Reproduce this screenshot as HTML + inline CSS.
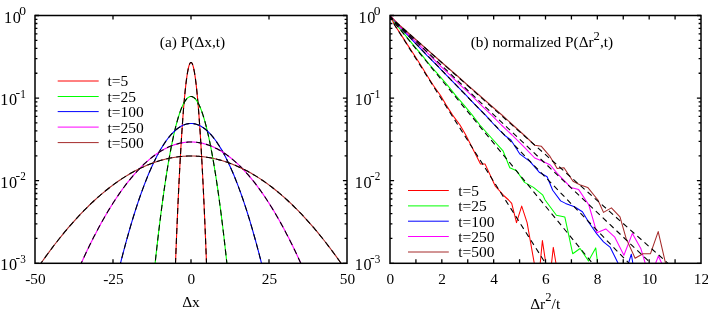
<!DOCTYPE html>
<html><head><meta charset="utf-8"><title>plot</title>
<style>
html,body{margin:0;padding:0;background:#fff;}
body{width:708px;height:310px;overflow:hidden;position:relative;}
.t{font-family:"Liberation Serif",serif;font-size:15.5px;fill:#000;}
</style></head><body>
<svg width="708" height="310" viewBox="0 0 708 310" style="position:absolute;left:0;top:0;will-change:transform">
<rect width="708" height="310" fill="#fff"/>
<defs><clipPath id="c1"><rect x="35.0" y="15.5" width="312.0" height="247.8"/></clipPath><clipPath id="c2"><rect x="390.0" y="15.5" width="311.0" height="247.8"/></clipPath></defs>
<g clip-path="url(#c1)" fill="none">
<path d="M174.72,283.89 L174.88,279.48 L175.04,275.12 L175.21,270.80 L175.37,266.53 L175.53,262.30 L175.70,258.11 L175.86,253.97 L176.02,249.88 L176.18,245.82 L176.35,241.82 L176.51,237.85 L176.67,233.93 L176.83,230.06 L177.00,226.23 L177.16,222.44 L177.32,218.70 L177.49,215.00 L177.65,211.35 L177.81,207.74 L177.97,204.18 L178.14,200.65 L178.30,197.18 L178.46,193.75 L178.63,190.36 L178.79,187.02 L178.95,183.72 L179.11,180.46 L179.28,177.25 L179.44,174.09 L179.60,170.96 L179.77,167.89 L179.93,164.85 L180.09,161.86 L180.25,158.92 L180.42,156.02 L180.58,153.16 L180.74,150.35 L180.91,147.58 L181.07,144.86 L181.23,142.18 L181.39,139.54 L181.56,136.95 L181.72,134.41 L181.88,131.91 L182.05,129.45 L182.21,127.03 L182.37,124.67 L182.53,122.34 L182.70,120.06 L182.86,117.82 L183.02,115.63 L183.18,113.48 L183.35,111.38 L183.51,109.32 L183.67,107.31 L183.84,105.34 L184.00,103.41 L184.16,101.53 L184.32,99.69 L184.49,97.90 L184.65,96.15 L184.81,94.44 L184.98,92.78 L185.14,91.16 L185.30,89.59 L185.46,88.07 L185.63,86.58 L185.79,85.14 L185.95,83.75 L186.12,82.40 L186.28,81.09 L186.44,79.83 L186.60,78.61 L186.77,77.44 L186.93,76.31 L187.09,75.22 L187.26,74.18 L187.42,73.19 L187.58,72.23 L187.74,71.33 L187.91,70.46 L188.07,69.64 L188.23,68.87 L188.39,68.14 L188.56,67.45 L188.72,66.81 L188.88,66.21 L189.05,65.66 L189.21,65.15 L189.37,64.68 L189.53,64.26 L189.70,63.89 L189.86,63.55 L190.02,63.27 L190.19,63.02 L190.35,62.82 L190.51,62.67 L190.67,62.56 L190.84,62.49 L191.00,62.47 L191.16,62.49 L191.33,62.56 L191.49,62.67 L191.65,62.82 L191.81,63.02 L191.98,63.27 L192.14,63.55 L192.30,63.89 L192.47,64.26 L192.63,64.68 L192.79,65.15 L192.95,65.66 L193.12,66.21 L193.28,66.81 L193.44,67.45 L193.61,68.14 L193.77,68.87 L193.93,69.64 L194.09,70.46 L194.26,71.33 L194.42,72.23 L194.58,73.19 L194.74,74.18 L194.91,75.22 L195.07,76.31 L195.23,77.44 L195.40,78.61 L195.56,79.83 L195.72,81.09 L195.88,82.40 L196.05,83.75 L196.21,85.14 L196.37,86.58 L196.54,88.07 L196.70,89.59 L196.86,91.16 L197.02,92.78 L197.19,94.44 L197.35,96.15 L197.51,97.90 L197.68,99.69 L197.84,101.53 L198.00,103.41 L198.16,105.34 L198.33,107.31 L198.49,109.32 L198.65,111.38 L198.82,113.48 L198.98,115.63 L199.14,117.82 L199.30,120.06 L199.47,122.34 L199.63,124.67 L199.79,127.03 L199.95,129.45 L200.12,131.91 L200.28,134.41 L200.44,136.95 L200.61,139.54 L200.77,142.18 L200.93,144.86 L201.09,147.58 L201.26,150.35 L201.42,153.16 L201.58,156.02 L201.75,158.92 L201.91,161.86 L202.07,164.85 L202.23,167.89 L202.40,170.96 L202.56,174.09 L202.72,177.25 L202.89,180.46 L203.05,183.72 L203.21,187.02 L203.37,190.36 L203.54,193.75 L203.70,197.18 L203.86,200.65 L204.03,204.18 L204.19,207.74 L204.35,211.35 L204.51,215.00 L204.68,218.70 L204.84,222.44 L205.00,226.23 L205.17,230.06 L205.33,233.93 L205.49,237.85 L205.65,241.82 L205.82,245.82 L205.98,249.88 L206.14,253.97 L206.30,258.11 L206.47,262.30 L206.63,266.53 L206.79,270.80 L206.96,275.12 L207.12,279.48 L207.28,283.89" stroke="#ff0000" stroke-width="1.1"/>
<path d="M174.72,283.89 L174.88,279.48 L175.04,275.12 L175.21,270.80 L175.37,266.53 L175.53,262.30 L175.70,258.11 L175.86,253.97 L176.02,249.88 L176.18,245.82 L176.35,241.82 L176.51,237.85 L176.67,233.93 L176.83,230.06 L177.00,226.23 L177.16,222.44 L177.32,218.70 L177.49,215.00 L177.65,211.35 L177.81,207.74 L177.97,204.18 L178.14,200.65 L178.30,197.18 L178.46,193.75 L178.63,190.36 L178.79,187.02 L178.95,183.72 L179.11,180.46 L179.28,177.25 L179.44,174.09 L179.60,170.96 L179.77,167.89 L179.93,164.85 L180.09,161.86 L180.25,158.92 L180.42,156.02 L180.58,153.16 L180.74,150.35 L180.91,147.58 L181.07,144.86 L181.23,142.18 L181.39,139.54 L181.56,136.95 L181.72,134.41 L181.88,131.91 L182.05,129.45 L182.21,127.03 L182.37,124.67 L182.53,122.34 L182.70,120.06 L182.86,117.82 L183.02,115.63 L183.18,113.48 L183.35,111.38 L183.51,109.32 L183.67,107.31 L183.84,105.34 L184.00,103.41 L184.16,101.53 L184.32,99.69 L184.49,97.90 L184.65,96.15 L184.81,94.44 L184.98,92.78 L185.14,91.16 L185.30,89.59 L185.46,88.07 L185.63,86.58 L185.79,85.14 L185.95,83.75 L186.12,82.40 L186.28,81.09 L186.44,79.83 L186.60,78.61 L186.77,77.44 L186.93,76.31 L187.09,75.22 L187.26,74.18 L187.42,73.19 L187.58,72.23 L187.74,71.33 L187.91,70.46 L188.07,69.64 L188.23,68.87 L188.39,68.14 L188.56,67.45 L188.72,66.81 L188.88,66.21 L189.05,65.66 L189.21,65.15 L189.37,64.68 L189.53,64.26 L189.70,63.89 L189.86,63.55 L190.02,63.27 L190.19,63.02 L190.35,62.82 L190.51,62.67 L190.67,62.56 L190.84,62.49 L191.00,62.47 L191.16,62.49 L191.33,62.56 L191.49,62.67 L191.65,62.82 L191.81,63.02 L191.98,63.27 L192.14,63.55 L192.30,63.89 L192.47,64.26 L192.63,64.68 L192.79,65.15 L192.95,65.66 L193.12,66.21 L193.28,66.81 L193.44,67.45 L193.61,68.14 L193.77,68.87 L193.93,69.64 L194.09,70.46 L194.26,71.33 L194.42,72.23 L194.58,73.19 L194.74,74.18 L194.91,75.22 L195.07,76.31 L195.23,77.44 L195.40,78.61 L195.56,79.83 L195.72,81.09 L195.88,82.40 L196.05,83.75 L196.21,85.14 L196.37,86.58 L196.54,88.07 L196.70,89.59 L196.86,91.16 L197.02,92.78 L197.19,94.44 L197.35,96.15 L197.51,97.90 L197.68,99.69 L197.84,101.53 L198.00,103.41 L198.16,105.34 L198.33,107.31 L198.49,109.32 L198.65,111.38 L198.82,113.48 L198.98,115.63 L199.14,117.82 L199.30,120.06 L199.47,122.34 L199.63,124.67 L199.79,127.03 L199.95,129.45 L200.12,131.91 L200.28,134.41 L200.44,136.95 L200.61,139.54 L200.77,142.18 L200.93,144.86 L201.09,147.58 L201.26,150.35 L201.42,153.16 L201.58,156.02 L201.75,158.92 L201.91,161.86 L202.07,164.85 L202.23,167.89 L202.40,170.96 L202.56,174.09 L202.72,177.25 L202.89,180.46 L203.05,183.72 L203.21,187.02 L203.37,190.36 L203.54,193.75 L203.70,197.18 L203.86,200.65 L204.03,204.18 L204.19,207.74 L204.35,211.35 L204.51,215.00 L204.68,218.70 L204.84,222.44 L205.00,226.23 L205.17,230.06 L205.33,233.93 L205.49,237.85 L205.65,241.82 L205.82,245.82 L205.98,249.88 L206.14,253.97 L206.30,258.11 L206.47,262.30 L206.63,266.53 L206.79,270.80 L206.96,275.12 L207.12,279.48 L207.28,283.89" stroke="#000" stroke-width="1.1" stroke-dasharray="6 4"/>
<path d="M153.33,280.40 L153.70,276.74 L154.08,273.12 L154.46,269.53 L154.83,265.98 L155.21,262.47 L155.59,258.99 L155.96,255.55 L156.34,252.15 L156.72,248.78 L157.09,245.46 L157.47,242.16 L157.85,238.91 L158.22,235.69 L158.60,232.51 L158.98,229.36 L159.35,226.25 L159.73,223.18 L160.11,220.15 L160.48,217.15 L160.86,214.19 L161.24,211.27 L161.61,208.38 L161.99,205.53 L162.37,202.71 L162.74,199.94 L163.12,197.20 L163.50,194.49 L163.87,191.83 L164.25,189.20 L164.63,186.60 L165.00,184.05 L165.38,181.53 L165.76,179.04 L166.14,176.60 L166.51,174.19 L166.89,171.82 L167.27,169.48 L167.64,167.18 L168.02,164.92 L168.40,162.69 L168.77,160.51 L169.15,158.35 L169.53,156.24 L169.90,154.16 L170.28,152.12 L170.66,150.12 L171.03,148.15 L171.41,146.22 L171.79,144.32 L172.16,142.46 L172.54,140.64 L172.92,138.86 L173.29,137.11 L173.67,135.40 L174.05,133.73 L174.42,132.09 L174.80,130.49 L175.18,128.93 L175.55,127.40 L175.93,125.91 L176.31,124.46 L176.68,123.04 L177.06,121.66 L177.44,120.32 L177.81,119.02 L178.19,117.75 L178.57,116.51 L178.94,115.32 L179.32,114.16 L179.70,113.04 L180.07,111.95 L180.45,110.91 L180.83,109.89 L181.20,108.92 L181.58,107.98 L181.96,107.08 L182.33,106.22 L182.71,105.39 L183.09,104.60 L183.47,103.84 L183.84,103.13 L184.22,102.45 L184.60,101.80 L184.97,101.19 L185.35,100.62 L185.73,100.09 L186.10,99.59 L186.48,99.14 L186.86,98.71 L187.23,98.33 L187.61,97.98 L187.99,97.66 L188.36,97.39 L188.74,97.15 L189.12,96.95 L189.49,96.78 L189.87,96.65 L190.25,96.56 L190.62,96.51 L191.00,96.49 L191.38,96.51 L191.75,96.56 L192.13,96.65 L192.51,96.78 L192.88,96.95 L193.26,97.15 L193.64,97.39 L194.01,97.66 L194.39,97.98 L194.77,98.33 L195.14,98.71 L195.52,99.14 L195.90,99.59 L196.27,100.09 L196.65,100.62 L197.03,101.19 L197.40,101.80 L197.78,102.45 L198.16,103.13 L198.53,103.84 L198.91,104.60 L199.29,105.39 L199.67,106.22 L200.04,107.08 L200.42,107.98 L200.80,108.92 L201.17,109.89 L201.55,110.91 L201.93,111.95 L202.30,113.04 L202.68,114.16 L203.06,115.32 L203.43,116.51 L203.81,117.75 L204.19,119.02 L204.56,120.32 L204.94,121.66 L205.32,123.04 L205.69,124.46 L206.07,125.91 L206.45,127.40 L206.82,128.93 L207.20,130.49 L207.58,132.09 L207.95,133.73 L208.33,135.40 L208.71,137.11 L209.08,138.86 L209.46,140.64 L209.84,142.46 L210.21,144.32 L210.59,146.22 L210.97,148.15 L211.34,150.12 L211.72,152.12 L212.10,154.16 L212.47,156.24 L212.85,158.35 L213.23,160.51 L213.60,162.69 L213.98,164.92 L214.36,167.18 L214.73,169.48 L215.11,171.82 L215.49,174.19 L215.86,176.60 L216.24,179.04 L216.62,181.53 L217.00,184.05 L217.37,186.60 L217.75,189.20 L218.13,191.83 L218.50,194.49 L218.88,197.20 L219.26,199.94 L219.63,202.71 L220.01,205.53 L220.39,208.38 L220.76,211.27 L221.14,214.19 L221.52,217.15 L221.89,220.15 L222.27,223.18 L222.65,226.25 L223.02,229.36 L223.40,232.51 L223.78,235.69 L224.15,238.91 L224.53,242.16 L224.91,245.46 L225.28,248.78 L225.66,252.15 L226.04,255.55 L226.41,258.99 L226.79,262.47 L227.17,265.98 L227.54,269.53 L227.92,273.12 L228.30,276.74 L228.67,280.40" stroke="#00ff00" stroke-width="1.1"/>
<path d="M153.33,280.40 L153.70,276.74 L154.08,273.12 L154.46,269.53 L154.83,265.98 L155.21,262.47 L155.59,258.99 L155.96,255.55 L156.34,252.15 L156.72,248.78 L157.09,245.46 L157.47,242.16 L157.85,238.91 L158.22,235.69 L158.60,232.51 L158.98,229.36 L159.35,226.25 L159.73,223.18 L160.11,220.15 L160.48,217.15 L160.86,214.19 L161.24,211.27 L161.61,208.38 L161.99,205.53 L162.37,202.71 L162.74,199.94 L163.12,197.20 L163.50,194.49 L163.87,191.83 L164.25,189.20 L164.63,186.60 L165.00,184.05 L165.38,181.53 L165.76,179.04 L166.14,176.60 L166.51,174.19 L166.89,171.82 L167.27,169.48 L167.64,167.18 L168.02,164.92 L168.40,162.69 L168.77,160.51 L169.15,158.35 L169.53,156.24 L169.90,154.16 L170.28,152.12 L170.66,150.12 L171.03,148.15 L171.41,146.22 L171.79,144.32 L172.16,142.46 L172.54,140.64 L172.92,138.86 L173.29,137.11 L173.67,135.40 L174.05,133.73 L174.42,132.09 L174.80,130.49 L175.18,128.93 L175.55,127.40 L175.93,125.91 L176.31,124.46 L176.68,123.04 L177.06,121.66 L177.44,120.32 L177.81,119.02 L178.19,117.75 L178.57,116.51 L178.94,115.32 L179.32,114.16 L179.70,113.04 L180.07,111.95 L180.45,110.91 L180.83,109.89 L181.20,108.92 L181.58,107.98 L181.96,107.08 L182.33,106.22 L182.71,105.39 L183.09,104.60 L183.47,103.84 L183.84,103.13 L184.22,102.45 L184.60,101.80 L184.97,101.19 L185.35,100.62 L185.73,100.09 L186.10,99.59 L186.48,99.14 L186.86,98.71 L187.23,98.33 L187.61,97.98 L187.99,97.66 L188.36,97.39 L188.74,97.15 L189.12,96.95 L189.49,96.78 L189.87,96.65 L190.25,96.56 L190.62,96.51 L191.00,96.49 L191.38,96.51 L191.75,96.56 L192.13,96.65 L192.51,96.78 L192.88,96.95 L193.26,97.15 L193.64,97.39 L194.01,97.66 L194.39,97.98 L194.77,98.33 L195.14,98.71 L195.52,99.14 L195.90,99.59 L196.27,100.09 L196.65,100.62 L197.03,101.19 L197.40,101.80 L197.78,102.45 L198.16,103.13 L198.53,103.84 L198.91,104.60 L199.29,105.39 L199.67,106.22 L200.04,107.08 L200.42,107.98 L200.80,108.92 L201.17,109.89 L201.55,110.91 L201.93,111.95 L202.30,113.04 L202.68,114.16 L203.06,115.32 L203.43,116.51 L203.81,117.75 L204.19,119.02 L204.56,120.32 L204.94,121.66 L205.32,123.04 L205.69,124.46 L206.07,125.91 L206.45,127.40 L206.82,128.93 L207.20,130.49 L207.58,132.09 L207.95,133.73 L208.33,135.40 L208.71,137.11 L209.08,138.86 L209.46,140.64 L209.84,142.46 L210.21,144.32 L210.59,146.22 L210.97,148.15 L211.34,150.12 L211.72,152.12 L212.10,154.16 L212.47,156.24 L212.85,158.35 L213.23,160.51 L213.60,162.69 L213.98,164.92 L214.36,167.18 L214.73,169.48 L215.11,171.82 L215.49,174.19 L215.86,176.60 L216.24,179.04 L216.62,181.53 L217.00,184.05 L217.37,186.60 L217.75,189.20 L218.13,191.83 L218.50,194.49 L218.88,197.20 L219.26,199.94 L219.63,202.71 L220.01,205.53 L220.39,208.38 L220.76,211.27 L221.14,214.19 L221.52,217.15 L221.89,220.15 L222.27,223.18 L222.65,226.25 L223.02,229.36 L223.40,232.51 L223.78,235.69 L224.15,238.91 L224.53,242.16 L224.91,245.46 L225.28,248.78 L225.66,252.15 L226.04,255.55 L226.41,258.99 L226.79,262.47 L227.17,265.98 L227.54,269.53 L227.92,273.12 L228.30,276.74 L228.67,280.40" stroke="#000" stroke-width="1.1" stroke-dasharray="6 4"/>
<path d="M116.96,277.63 L117.70,274.56 L118.44,271.53 L119.18,268.52 L119.92,265.55 L120.66,262.60 L121.40,259.69 L122.15,256.81 L122.89,253.95 L123.63,251.13 L124.37,248.34 L125.11,245.58 L125.85,242.85 L126.59,240.16 L127.33,237.49 L128.07,234.85 L128.81,232.25 L129.55,229.67 L130.29,227.13 L131.03,224.62 L131.77,222.13 L132.51,219.68 L133.25,217.26 L133.99,214.87 L134.73,212.51 L135.47,210.19 L136.21,207.89 L136.95,205.62 L137.69,203.39 L138.43,201.18 L139.17,199.01 L139.91,196.87 L140.65,194.76 L141.39,192.67 L142.14,190.62 L142.88,188.60 L143.62,186.62 L144.36,184.66 L145.10,182.73 L145.84,180.83 L146.58,178.97 L147.32,177.13 L148.06,175.33 L148.80,173.56 L149.54,171.82 L150.28,170.10 L151.02,168.42 L151.76,166.77 L152.50,165.16 L153.24,163.57 L153.98,162.01 L154.72,160.49 L155.46,158.99 L156.20,157.53 L156.94,156.09 L157.68,154.69 L158.42,153.32 L159.16,151.98 L159.90,150.66 L160.64,149.39 L161.38,148.14 L162.13,146.92 L162.87,145.73 L163.61,144.58 L164.35,143.45 L165.09,142.36 L165.83,141.29 L166.57,140.26 L167.31,139.26 L168.05,138.29 L168.79,137.35 L169.53,136.44 L170.27,135.56 L171.01,134.71 L171.75,133.89 L172.49,133.11 L173.23,132.35 L173.97,131.63 L174.71,130.93 L175.45,130.27 L176.19,129.64 L176.93,129.04 L177.67,128.47 L178.41,127.93 L179.15,127.42 L179.89,126.94 L180.63,126.49 L181.38,126.08 L182.12,125.69 L182.86,125.34 L183.60,125.01 L184.34,124.72 L185.08,124.46 L185.82,124.23 L186.56,124.03 L187.30,123.86 L188.04,123.72 L188.78,123.61 L189.52,123.53 L190.26,123.49 L191.00,123.47 L191.74,123.49 L192.48,123.53 L193.22,123.61 L193.96,123.72 L194.70,123.86 L195.44,124.03 L196.18,124.23 L196.92,124.46 L197.66,124.72 L198.40,125.01 L199.14,125.34 L199.88,125.69 L200.62,126.08 L201.37,126.49 L202.11,126.94 L202.85,127.42 L203.59,127.93 L204.33,128.47 L205.07,129.04 L205.81,129.64 L206.55,130.27 L207.29,130.93 L208.03,131.63 L208.77,132.35 L209.51,133.11 L210.25,133.89 L210.99,134.71 L211.73,135.56 L212.47,136.44 L213.21,137.35 L213.95,138.29 L214.69,139.26 L215.43,140.26 L216.17,141.29 L216.91,142.36 L217.65,143.45 L218.39,144.58 L219.13,145.73 L219.87,146.92 L220.62,148.14 L221.36,149.39 L222.10,150.66 L222.84,151.98 L223.58,153.32 L224.32,154.69 L225.06,156.09 L225.80,157.53 L226.54,158.99 L227.28,160.49 L228.02,162.01 L228.76,163.57 L229.50,165.16 L230.24,166.77 L230.98,168.42 L231.72,170.10 L232.46,171.82 L233.20,173.56 L233.94,175.33 L234.68,177.13 L235.42,178.97 L236.16,180.83 L236.90,182.73 L237.64,184.66 L238.38,186.62 L239.12,188.60 L239.86,190.62 L240.61,192.67 L241.35,194.76 L242.09,196.87 L242.83,199.01 L243.57,201.18 L244.31,203.39 L245.05,205.62 L245.79,207.89 L246.53,210.19 L247.27,212.51 L248.01,214.87 L248.75,217.26 L249.49,219.68 L250.23,222.13 L250.97,224.62 L251.71,227.13 L252.45,229.67 L253.19,232.25 L253.93,234.85 L254.67,237.49 L255.41,240.16 L256.15,242.85 L256.89,245.58 L257.63,248.34 L258.37,251.13 L259.11,253.95 L259.85,256.81 L260.60,259.69 L261.34,262.60 L262.08,265.55 L262.82,268.52 L263.56,271.53 L264.30,274.56 L265.04,277.63" stroke="#0000ff" stroke-width="1.1"/>
<path d="M116.96,277.63 L117.70,274.56 L118.44,271.53 L119.18,268.52 L119.92,265.55 L120.66,262.60 L121.40,259.69 L122.15,256.81 L122.89,253.95 L123.63,251.13 L124.37,248.34 L125.11,245.58 L125.85,242.85 L126.59,240.16 L127.33,237.49 L128.07,234.85 L128.81,232.25 L129.55,229.67 L130.29,227.13 L131.03,224.62 L131.77,222.13 L132.51,219.68 L133.25,217.26 L133.99,214.87 L134.73,212.51 L135.47,210.19 L136.21,207.89 L136.95,205.62 L137.69,203.39 L138.43,201.18 L139.17,199.01 L139.91,196.87 L140.65,194.76 L141.39,192.67 L142.14,190.62 L142.88,188.60 L143.62,186.62 L144.36,184.66 L145.10,182.73 L145.84,180.83 L146.58,178.97 L147.32,177.13 L148.06,175.33 L148.80,173.56 L149.54,171.82 L150.28,170.10 L151.02,168.42 L151.76,166.77 L152.50,165.16 L153.24,163.57 L153.98,162.01 L154.72,160.49 L155.46,158.99 L156.20,157.53 L156.94,156.09 L157.68,154.69 L158.42,153.32 L159.16,151.98 L159.90,150.66 L160.64,149.39 L161.38,148.14 L162.13,146.92 L162.87,145.73 L163.61,144.58 L164.35,143.45 L165.09,142.36 L165.83,141.29 L166.57,140.26 L167.31,139.26 L168.05,138.29 L168.79,137.35 L169.53,136.44 L170.27,135.56 L171.01,134.71 L171.75,133.89 L172.49,133.11 L173.23,132.35 L173.97,131.63 L174.71,130.93 L175.45,130.27 L176.19,129.64 L176.93,129.04 L177.67,128.47 L178.41,127.93 L179.15,127.42 L179.89,126.94 L180.63,126.49 L181.38,126.08 L182.12,125.69 L182.86,125.34 L183.60,125.01 L184.34,124.72 L185.08,124.46 L185.82,124.23 L186.56,124.03 L187.30,123.86 L188.04,123.72 L188.78,123.61 L189.52,123.53 L190.26,123.49 L191.00,123.47 L191.74,123.49 L192.48,123.53 L193.22,123.61 L193.96,123.72 L194.70,123.86 L195.44,124.03 L196.18,124.23 L196.92,124.46 L197.66,124.72 L198.40,125.01 L199.14,125.34 L199.88,125.69 L200.62,126.08 L201.37,126.49 L202.11,126.94 L202.85,127.42 L203.59,127.93 L204.33,128.47 L205.07,129.04 L205.81,129.64 L206.55,130.27 L207.29,130.93 L208.03,131.63 L208.77,132.35 L209.51,133.11 L210.25,133.89 L210.99,134.71 L211.73,135.56 L212.47,136.44 L213.21,137.35 L213.95,138.29 L214.69,139.26 L215.43,140.26 L216.17,141.29 L216.91,142.36 L217.65,143.45 L218.39,144.58 L219.13,145.73 L219.87,146.92 L220.62,148.14 L221.36,149.39 L222.10,150.66 L222.84,151.98 L223.58,153.32 L224.32,154.69 L225.06,156.09 L225.80,157.53 L226.54,158.99 L227.28,160.49 L228.02,162.01 L228.76,163.57 L229.50,165.16 L230.24,166.77 L230.98,168.42 L231.72,170.10 L232.46,171.82 L233.20,173.56 L233.94,175.33 L234.68,177.13 L235.42,178.97 L236.16,180.83 L236.90,182.73 L237.64,184.66 L238.38,186.62 L239.12,188.60 L239.86,190.62 L240.61,192.67 L241.35,194.76 L242.09,196.87 L242.83,199.01 L243.57,201.18 L244.31,203.39 L245.05,205.62 L245.79,207.89 L246.53,210.19 L247.27,212.51 L248.01,214.87 L248.75,217.26 L249.49,219.68 L250.23,222.13 L250.97,224.62 L251.71,227.13 L252.45,229.67 L253.19,232.25 L253.93,234.85 L254.67,237.49 L255.41,240.16 L256.15,242.85 L256.89,245.58 L257.63,248.34 L258.37,251.13 L259.11,253.95 L259.85,256.81 L260.60,259.69 L261.34,262.60 L262.08,265.55 L262.82,268.52 L263.56,271.53 L264.30,274.56 L265.04,277.63" stroke="#000" stroke-width="1.1" stroke-dasharray="6 4"/>
<path d="M75.68,275.73 L76.84,273.07 L77.99,270.44 L79.14,267.83 L80.30,265.25 L81.45,262.69 L82.60,260.17 L83.76,257.67 L84.91,255.19 L86.06,252.74 L87.22,250.32 L88.37,247.93 L89.52,245.56 L90.68,243.22 L91.83,240.91 L92.98,238.62 L94.14,236.36 L95.29,234.13 L96.44,231.92 L97.59,229.74 L98.75,227.59 L99.90,225.46 L101.05,223.36 L102.21,221.29 L103.36,219.24 L104.51,217.22 L105.67,215.23 L106.82,213.26 L107.97,211.32 L109.13,209.41 L110.28,207.52 L111.43,205.67 L112.59,203.83 L113.74,202.03 L114.89,200.25 L116.05,198.50 L117.20,196.77 L118.35,195.07 L119.50,193.40 L120.66,191.76 L121.81,190.14 L122.96,188.55 L124.12,186.98 L125.27,185.44 L126.42,183.93 L127.58,182.45 L128.73,180.99 L129.88,179.56 L131.04,178.15 L132.19,176.78 L133.34,175.43 L134.50,174.10 L135.65,172.80 L136.80,171.53 L137.96,170.29 L139.11,169.07 L140.26,167.88 L141.41,166.72 L142.57,165.58 L143.72,164.47 L144.87,163.39 L146.03,162.33 L147.18,161.30 L148.33,160.30 L149.49,159.32 L150.64,158.37 L151.79,157.45 L152.95,156.55 L154.10,155.69 L155.25,154.84 L156.41,154.03 L157.56,153.24 L158.71,152.48 L159.86,151.74 L161.02,151.03 L162.17,150.35 L163.32,149.69 L164.48,149.07 L165.63,148.46 L166.78,147.89 L167.94,147.34 L169.09,146.82 L170.24,146.32 L171.40,145.86 L172.55,145.41 L173.70,145.00 L174.86,144.61 L176.01,144.25 L177.16,143.92 L178.32,143.61 L179.47,143.33 L180.62,143.07 L181.77,142.85 L182.93,142.65 L184.08,142.47 L185.23,142.32 L186.39,142.20 L187.54,142.11 L188.69,142.04 L189.85,142.00 L191.00,141.99 L192.15,142.00 L193.31,142.04 L194.46,142.11 L195.61,142.20 L196.77,142.32 L197.92,142.47 L199.07,142.65 L200.23,142.85 L201.38,143.07 L202.53,143.33 L203.68,143.61 L204.84,143.92 L205.99,144.25 L207.14,144.61 L208.30,145.00 L209.45,145.41 L210.60,145.86 L211.76,146.32 L212.91,146.82 L214.06,147.34 L215.22,147.89 L216.37,148.46 L217.52,149.07 L218.68,149.69 L219.83,150.35 L220.98,151.03 L222.14,151.74 L223.29,152.48 L224.44,153.24 L225.59,154.03 L226.75,154.84 L227.90,155.69 L229.05,156.55 L230.21,157.45 L231.36,158.37 L232.51,159.32 L233.67,160.30 L234.82,161.30 L235.97,162.33 L237.13,163.39 L238.28,164.47 L239.43,165.58 L240.59,166.72 L241.74,167.88 L242.89,169.07 L244.04,170.29 L245.20,171.53 L246.35,172.80 L247.50,174.10 L248.66,175.43 L249.81,176.78 L250.96,178.15 L252.12,179.56 L253.27,180.99 L254.42,182.45 L255.58,183.93 L256.73,185.44 L257.88,186.98 L259.04,188.55 L260.19,190.14 L261.34,191.76 L262.50,193.40 L263.65,195.07 L264.80,196.77 L265.95,198.50 L267.11,200.25 L268.26,202.03 L269.41,203.83 L270.57,205.67 L271.72,207.52 L272.87,209.41 L274.03,211.32 L275.18,213.26 L276.33,215.23 L277.49,217.22 L278.64,219.24 L279.79,221.29 L280.95,223.36 L282.10,225.46 L283.25,227.59 L284.41,229.74 L285.56,231.92 L286.71,234.13 L287.86,236.36 L289.02,238.62 L290.17,240.91 L291.32,243.22 L292.48,245.56 L293.63,247.93 L294.78,250.32 L295.94,252.74 L297.09,255.19 L298.24,257.67 L299.40,260.17 L300.55,262.69 L301.70,265.25 L302.86,267.83 L304.01,270.44 L305.16,273.07 L306.32,275.73" stroke="#ff00ff" stroke-width="1.1"/>
<path d="M75.68,275.73 L76.84,273.07 L77.99,270.44 L79.14,267.83 L80.30,265.25 L81.45,262.69 L82.60,260.17 L83.76,257.67 L84.91,255.19 L86.06,252.74 L87.22,250.32 L88.37,247.93 L89.52,245.56 L90.68,243.22 L91.83,240.91 L92.98,238.62 L94.14,236.36 L95.29,234.13 L96.44,231.92 L97.59,229.74 L98.75,227.59 L99.90,225.46 L101.05,223.36 L102.21,221.29 L103.36,219.24 L104.51,217.22 L105.67,215.23 L106.82,213.26 L107.97,211.32 L109.13,209.41 L110.28,207.52 L111.43,205.67 L112.59,203.83 L113.74,202.03 L114.89,200.25 L116.05,198.50 L117.20,196.77 L118.35,195.07 L119.50,193.40 L120.66,191.76 L121.81,190.14 L122.96,188.55 L124.12,186.98 L125.27,185.44 L126.42,183.93 L127.58,182.45 L128.73,180.99 L129.88,179.56 L131.04,178.15 L132.19,176.78 L133.34,175.43 L134.50,174.10 L135.65,172.80 L136.80,171.53 L137.96,170.29 L139.11,169.07 L140.26,167.88 L141.41,166.72 L142.57,165.58 L143.72,164.47 L144.87,163.39 L146.03,162.33 L147.18,161.30 L148.33,160.30 L149.49,159.32 L150.64,158.37 L151.79,157.45 L152.95,156.55 L154.10,155.69 L155.25,154.84 L156.41,154.03 L157.56,153.24 L158.71,152.48 L159.86,151.74 L161.02,151.03 L162.17,150.35 L163.32,149.69 L164.48,149.07 L165.63,148.46 L166.78,147.89 L167.94,147.34 L169.09,146.82 L170.24,146.32 L171.40,145.86 L172.55,145.41 L173.70,145.00 L174.86,144.61 L176.01,144.25 L177.16,143.92 L178.32,143.61 L179.47,143.33 L180.62,143.07 L181.77,142.85 L182.93,142.65 L184.08,142.47 L185.23,142.32 L186.39,142.20 L187.54,142.11 L188.69,142.04 L189.85,142.00 L191.00,141.99 L192.15,142.00 L193.31,142.04 L194.46,142.11 L195.61,142.20 L196.77,142.32 L197.92,142.47 L199.07,142.65 L200.23,142.85 L201.38,143.07 L202.53,143.33 L203.68,143.61 L204.84,143.92 L205.99,144.25 L207.14,144.61 L208.30,145.00 L209.45,145.41 L210.60,145.86 L211.76,146.32 L212.91,146.82 L214.06,147.34 L215.22,147.89 L216.37,148.46 L217.52,149.07 L218.68,149.69 L219.83,150.35 L220.98,151.03 L222.14,151.74 L223.29,152.48 L224.44,153.24 L225.59,154.03 L226.75,154.84 L227.90,155.69 L229.05,156.55 L230.21,157.45 L231.36,158.37 L232.51,159.32 L233.67,160.30 L234.82,161.30 L235.97,162.33 L237.13,163.39 L238.28,164.47 L239.43,165.58 L240.59,166.72 L241.74,167.88 L242.89,169.07 L244.04,170.29 L245.20,171.53 L246.35,172.80 L247.50,174.10 L248.66,175.43 L249.81,176.78 L250.96,178.15 L252.12,179.56 L253.27,180.99 L254.42,182.45 L255.58,183.93 L256.73,185.44 L257.88,186.98 L259.04,188.55 L260.19,190.14 L261.34,191.76 L262.50,193.40 L263.65,195.07 L264.80,196.77 L265.95,198.50 L267.11,200.25 L268.26,202.03 L269.41,203.83 L270.57,205.67 L271.72,207.52 L272.87,209.41 L274.03,211.32 L275.18,213.26 L276.33,215.23 L277.49,217.22 L278.64,219.24 L279.79,221.29 L280.95,223.36 L282.10,225.46 L283.25,227.59 L284.41,229.74 L285.56,231.92 L286.71,234.13 L287.86,236.36 L289.02,238.62 L290.17,240.91 L291.32,243.22 L292.48,245.56 L293.63,247.93 L294.78,250.32 L295.94,252.74 L297.09,255.19 L298.24,257.67 L299.40,260.17 L300.55,262.69 L301.70,265.25 L302.86,267.83 L304.01,270.44 L305.16,273.07 L306.32,275.73" stroke="#000" stroke-width="1.1" stroke-dasharray="6 4"/>
<path d="M33.42,274.30 L35.00,271.94 L36.58,269.61 L38.15,267.31 L39.73,265.02 L41.30,262.76 L42.88,260.53 L44.45,258.32 L46.03,256.13 L47.61,253.96 L49.18,251.82 L50.76,249.71 L52.33,247.61 L53.91,245.54 L55.48,243.50 L57.06,241.47 L58.64,239.47 L60.21,237.50 L61.79,235.55 L63.36,233.62 L64.94,231.72 L66.52,229.83 L68.09,227.98 L69.67,226.14 L71.24,224.33 L72.82,222.55 L74.39,220.79 L75.97,219.05 L77.55,217.33 L79.12,215.64 L80.70,213.97 L82.27,212.33 L83.85,210.71 L85.42,209.11 L87.00,207.54 L88.58,205.99 L90.15,204.46 L91.73,202.96 L93.30,201.48 L94.88,200.03 L96.45,198.60 L98.03,197.19 L99.61,195.80 L101.18,194.44 L102.76,193.11 L104.33,191.80 L105.91,190.51 L107.48,189.24 L109.06,188.00 L110.64,186.78 L112.21,185.59 L113.79,184.41 L115.36,183.27 L116.94,182.14 L118.52,181.04 L120.09,179.97 L121.67,178.91 L123.24,177.89 L124.82,176.88 L126.39,175.90 L127.97,174.94 L129.55,174.01 L131.12,173.09 L132.70,172.21 L134.27,171.34 L135.85,170.50 L137.42,169.69 L139.00,168.90 L140.58,168.13 L142.15,167.38 L143.73,166.66 L145.30,165.96 L146.88,165.29 L148.45,164.64 L150.03,164.01 L151.61,163.41 L153.18,162.83 L154.76,162.27 L156.33,161.74 L157.91,161.23 L159.48,160.75 L161.06,160.28 L162.64,159.85 L164.21,159.43 L165.79,159.04 L167.36,158.68 L168.94,158.33 L170.52,158.01 L172.09,157.72 L173.67,157.45 L175.24,157.20 L176.82,156.97 L178.39,156.77 L179.97,156.59 L181.55,156.44 L183.12,156.31 L184.70,156.20 L186.27,156.12 L187.85,156.06 L189.42,156.03 L191.00,156.01 L192.58,156.03 L194.15,156.06 L195.73,156.12 L197.30,156.20 L198.88,156.31 L200.45,156.44 L202.03,156.59 L203.61,156.77 L205.18,156.97 L206.76,157.20 L208.33,157.45 L209.91,157.72 L211.48,158.01 L213.06,158.33 L214.64,158.68 L216.21,159.04 L217.79,159.43 L219.36,159.85 L220.94,160.28 L222.52,160.75 L224.09,161.23 L225.67,161.74 L227.24,162.27 L228.82,162.83 L230.39,163.41 L231.97,164.01 L233.55,164.64 L235.12,165.29 L236.70,165.96 L238.27,166.66 L239.85,167.38 L241.42,168.13 L243.00,168.90 L244.58,169.69 L246.15,170.50 L247.73,171.34 L249.30,172.21 L250.88,173.09 L252.45,174.01 L254.03,174.94 L255.61,175.90 L257.18,176.88 L258.76,177.89 L260.33,178.91 L261.91,179.97 L263.48,181.04 L265.06,182.14 L266.64,183.27 L268.21,184.41 L269.79,185.59 L271.36,186.78 L272.94,188.00 L274.52,189.24 L276.09,190.51 L277.67,191.80 L279.24,193.11 L280.82,194.44 L282.39,195.80 L283.97,197.19 L285.55,198.60 L287.12,200.03 L288.70,201.48 L290.27,202.96 L291.85,204.46 L293.42,205.99 L295.00,207.54 L296.58,209.11 L298.15,210.71 L299.73,212.33 L301.30,213.97 L302.88,215.64 L304.45,217.33 L306.03,219.05 L307.61,220.79 L309.18,222.55 L310.76,224.33 L312.33,226.14 L313.91,227.98 L315.48,229.83 L317.06,231.72 L318.64,233.62 L320.21,235.55 L321.79,237.50 L323.36,239.47 L324.94,241.47 L326.52,243.50 L328.09,245.54 L329.67,247.61 L331.24,249.71 L332.82,251.82 L334.39,253.96 L335.97,256.13 L337.55,258.32 L339.12,260.53 L340.70,262.76 L342.27,265.02 L343.85,267.31 L345.42,269.61 L347.00,271.94 L348.58,274.30" stroke="#a52a2a" stroke-width="1.1"/>
<path d="M33.42,274.30 L35.00,271.94 L36.58,269.61 L38.15,267.31 L39.73,265.02 L41.30,262.76 L42.88,260.53 L44.45,258.32 L46.03,256.13 L47.61,253.96 L49.18,251.82 L50.76,249.71 L52.33,247.61 L53.91,245.54 L55.48,243.50 L57.06,241.47 L58.64,239.47 L60.21,237.50 L61.79,235.55 L63.36,233.62 L64.94,231.72 L66.52,229.83 L68.09,227.98 L69.67,226.14 L71.24,224.33 L72.82,222.55 L74.39,220.79 L75.97,219.05 L77.55,217.33 L79.12,215.64 L80.70,213.97 L82.27,212.33 L83.85,210.71 L85.42,209.11 L87.00,207.54 L88.58,205.99 L90.15,204.46 L91.73,202.96 L93.30,201.48 L94.88,200.03 L96.45,198.60 L98.03,197.19 L99.61,195.80 L101.18,194.44 L102.76,193.11 L104.33,191.80 L105.91,190.51 L107.48,189.24 L109.06,188.00 L110.64,186.78 L112.21,185.59 L113.79,184.41 L115.36,183.27 L116.94,182.14 L118.52,181.04 L120.09,179.97 L121.67,178.91 L123.24,177.89 L124.82,176.88 L126.39,175.90 L127.97,174.94 L129.55,174.01 L131.12,173.09 L132.70,172.21 L134.27,171.34 L135.85,170.50 L137.42,169.69 L139.00,168.90 L140.58,168.13 L142.15,167.38 L143.73,166.66 L145.30,165.96 L146.88,165.29 L148.45,164.64 L150.03,164.01 L151.61,163.41 L153.18,162.83 L154.76,162.27 L156.33,161.74 L157.91,161.23 L159.48,160.75 L161.06,160.28 L162.64,159.85 L164.21,159.43 L165.79,159.04 L167.36,158.68 L168.94,158.33 L170.52,158.01 L172.09,157.72 L173.67,157.45 L175.24,157.20 L176.82,156.97 L178.39,156.77 L179.97,156.59 L181.55,156.44 L183.12,156.31 L184.70,156.20 L186.27,156.12 L187.85,156.06 L189.42,156.03 L191.00,156.01 L192.58,156.03 L194.15,156.06 L195.73,156.12 L197.30,156.20 L198.88,156.31 L200.45,156.44 L202.03,156.59 L203.61,156.77 L205.18,156.97 L206.76,157.20 L208.33,157.45 L209.91,157.72 L211.48,158.01 L213.06,158.33 L214.64,158.68 L216.21,159.04 L217.79,159.43 L219.36,159.85 L220.94,160.28 L222.52,160.75 L224.09,161.23 L225.67,161.74 L227.24,162.27 L228.82,162.83 L230.39,163.41 L231.97,164.01 L233.55,164.64 L235.12,165.29 L236.70,165.96 L238.27,166.66 L239.85,167.38 L241.42,168.13 L243.00,168.90 L244.58,169.69 L246.15,170.50 L247.73,171.34 L249.30,172.21 L250.88,173.09 L252.45,174.01 L254.03,174.94 L255.61,175.90 L257.18,176.88 L258.76,177.89 L260.33,178.91 L261.91,179.97 L263.48,181.04 L265.06,182.14 L266.64,183.27 L268.21,184.41 L269.79,185.59 L271.36,186.78 L272.94,188.00 L274.52,189.24 L276.09,190.51 L277.67,191.80 L279.24,193.11 L280.82,194.44 L282.39,195.80 L283.97,197.19 L285.55,198.60 L287.12,200.03 L288.70,201.48 L290.27,202.96 L291.85,204.46 L293.42,205.99 L295.00,207.54 L296.58,209.11 L298.15,210.71 L299.73,212.33 L301.30,213.97 L302.88,215.64 L304.45,217.33 L306.03,219.05 L307.61,220.79 L309.18,222.55 L310.76,224.33 L312.33,226.14 L313.91,227.98 L315.48,229.83 L317.06,231.72 L318.64,233.62 L320.21,235.55 L321.79,237.50 L323.36,239.47 L324.94,241.47 L326.52,243.50 L328.09,245.54 L329.67,247.61 L331.24,249.71 L332.82,251.82 L334.39,253.96 L335.97,256.13 L337.55,258.32 L339.12,260.53 L340.70,262.76 L342.27,265.02 L343.85,267.31 L345.42,269.61 L347.00,271.94 L348.58,274.30" stroke="#000" stroke-width="1.1" stroke-dasharray="6 4"/>
</g>
<g clip-path="url(#c2)" fill="none" stroke-linejoin="round">
<path d="M390.0,15.5 L395.0,25.5 L401.5,35.4 L407.9,45.4 L414.4,55.3 L420.8,65.3 L426.9,75.2 L433.2,85.2 L440.4,95.2 L446.2,105.1 L452.6,115.1 L460.0,125.0 L465.8,135.0 L480.5,163.9 L485.0,163.9 L495.1,185.8 L504.2,196.0 L508.6,200.0 L511.7,203.4 L516.5,222.6 L521.7,206.1 L527.1,222.6 L534.3,263.5 L535.0,270.0 L539.5,270.0 L540.2,263.5 L542.4,240.6 L545.8,263.5 L546.0,270.0 L551.0,270.0 L551.5,263.5 L553.3,247.4 L556.0,263.5 L556.5,270.0" stroke="#ff0000" stroke-width="1.05"/>
<path d="M390.0,15.5 L396.9,25.5 L405.4,35.4 L413.6,45.4 L422.1,55.3 L430.1,65.3 L438.8,75.2 L447.4,85.2 L455.4,95.2 L464.0,105.1 L472.3,115.1 L479.9,125.0 L488.8,135.0 L503.0,150.8 L509.8,167.7 L516.6,170.7 L524.5,182.4 L533.5,187.4 L542.6,194.8 L545.1,200.0 L556.4,215.3 L564.8,216.9 L572.7,253.7 L580.1,248.5 L588.5,261.0 L595.7,247.9 L597.7,263.5 L598.0,270.0" stroke="#00ff00" stroke-width="1.05"/>
<path d="M390.0,15.5 L398.3,25.5 L407.9,35.4 L417.4,45.4 L426.9,55.3 L437.0,65.3 L446.4,75.2 L456.2,85.2 L466.0,95.2 L475.5,105.1 L485.5,115.1 L494.4,125.0 L504.2,135.0 L510.9,140.0 L520.0,154.2 L530.1,161.6 L539.2,172.2 L547.1,176.8 L552.7,190.3 L560.6,200.9 L565.5,203.4 L574.5,206.8 L582.4,211.7 L589.5,223.5 L596.8,233.9 L603.5,241.8 L610.3,247.4 L618.2,263.5 L619.0,270.0 L628.0,270.0 L628.4,263.5 L631.3,254.2 L632.9,263.5 L633.0,270.0" stroke="#0000ff" stroke-width="1.05"/>
<path d="M390.0,15.5 L398.9,25.5 L409.2,35.4 L419.6,45.4 L429.9,55.3 L439.8,65.3 L450.0,75.2 L460.3,85.2 L471.3,95.2 L481.1,105.1 L491.6,115.1 L501.4,125.0 L512.0,135.0 L520.0,142.9 L524.5,147.4 L534.7,158.0 L542.6,161.3 L550.3,165.0 L557.2,173.4 L570.8,187.4 L578.7,189.6 L588.9,205.0 L590.0,209.0 L596.8,232.7 L605.8,228.9 L614.8,237.2 L623.9,255.3 L632.4,233.4 L640.8,248.5 L645.3,263.5 L646.0,270.0 L655.0,270.0 L655.5,263.5 L658.4,256.0 L661.8,263.5 L662.0,270.0" stroke="#ff00ff" stroke-width="1.05"/>
<path d="M390.0,15.5 L399.9,25.5 L411.2,35.5 L422.5,45.5 L433.9,55.5 L445.3,65.5 L456.9,75.5 L468.0,85.5 L479.6,95.5 L490.9,105.5 L502.5,115.5 L513.4,125.5 L524.5,135.5 L534.7,145.2 L541.4,146.3 L550.0,156.4 L557.2,168.4 L564.0,167.7 L573.0,181.3 L579.8,184.7 L587.7,187.4 L597.9,200.0 L603.5,212.4 L611.4,207.9 L620.0,216.9 L626.1,238.4 L635.1,258.2 L643.0,253.7 L650.5,253.7 L658.2,231.6 L665.6,263.5 L666.0,270.0" stroke="#a52a2a" stroke-width="1.05"/>
<path d="M388.6,15.5 L545.5,263.3" stroke="#000" stroke-width="1.1" stroke-dasharray="5.5 4"/>
<path d="M388.6,15.5 L592.5,263.3" stroke="#000" stroke-width="1.1" stroke-dasharray="5.5 4"/>
<path d="M388.6,15.5 L629,263.3" stroke="#000" stroke-width="1.1" stroke-dasharray="5.5 4"/>
<path d="M388.6,15.5 L651,263.3" stroke="#000" stroke-width="1.1" stroke-dasharray="5.5 4"/>
<path d="M388.6,15.5 L668,263.3" stroke="#000" stroke-width="1.1" stroke-dasharray="5.5 4"/>
</g>
<rect x="35.0" y="15.5" width="312.0" height="247.8" fill="none" stroke="#000" stroke-width="1.5"/>
<path d="M113.00,263.3 v-4.1 M113.00,15.5 v4.1 M191.00,263.3 v-4.1 M191.00,15.5 v4.1 M269.00,263.3 v-4.1 M269.00,15.5 v4.1 M35.0,15.50 h4.1 M347.0,15.50 h-4.1 M35.0,73.23 h2.4 M347.0,73.23 h-2.4 M35.0,58.69 h2.4 M347.0,58.69 h-2.4 M35.0,48.37 h2.4 M347.0,48.37 h-2.4 M35.0,40.37 h2.4 M347.0,40.37 h-2.4 M35.0,33.82 h2.4 M347.0,33.82 h-2.4 M35.0,28.29 h2.4 M347.0,28.29 h-2.4 M35.0,23.50 h2.4 M347.0,23.50 h-2.4 M35.0,19.28 h2.4 M347.0,19.28 h-2.4 M35.0,98.10 h4.1 M347.0,98.10 h-4.1 M35.0,155.83 h2.4 M347.0,155.83 h-2.4 M35.0,141.29 h2.4 M347.0,141.29 h-2.4 M35.0,130.97 h2.4 M347.0,130.97 h-2.4 M35.0,122.97 h2.4 M347.0,122.97 h-2.4 M35.0,116.42 h2.4 M347.0,116.42 h-2.4 M35.0,110.89 h2.4 M347.0,110.89 h-2.4 M35.0,106.10 h2.4 M347.0,106.10 h-2.4 M35.0,101.88 h2.4 M347.0,101.88 h-2.4 M35.0,180.70 h4.1 M347.0,180.70 h-4.1 M35.0,238.43 h2.4 M347.0,238.43 h-2.4 M35.0,223.89 h2.4 M347.0,223.89 h-2.4 M35.0,213.57 h2.4 M347.0,213.57 h-2.4 M35.0,205.57 h2.4 M347.0,205.57 h-2.4 M35.0,199.02 h2.4 M347.0,199.02 h-2.4 M35.0,193.49 h2.4 M347.0,193.49 h-2.4 M35.0,188.70 h2.4 M347.0,188.70 h-2.4 M35.0,184.48 h2.4 M347.0,184.48 h-2.4 M35.0,263.30 h4.1 M347.0,263.30 h-4.1" stroke="#000" stroke-width="1.3" fill="none"/>
<rect x="390.0" y="15.5" width="311.0" height="247.8" fill="none" stroke="#000" stroke-width="1.5"/>
<path d="M415.92,263.3 v-4.1 M415.92,15.5 v4.1 M441.83,263.3 v-4.1 M441.83,15.5 v4.1 M467.75,263.3 v-4.1 M467.75,15.5 v4.1 M493.67,263.3 v-4.1 M493.67,15.5 v4.1 M519.58,263.3 v-4.1 M519.58,15.5 v4.1 M545.50,263.3 v-4.1 M545.50,15.5 v4.1 M571.42,263.3 v-4.1 M571.42,15.5 v4.1 M597.33,263.3 v-4.1 M597.33,15.5 v4.1 M623.25,263.3 v-4.1 M623.25,15.5 v4.1 M649.17,263.3 v-4.1 M649.17,15.5 v4.1 M675.08,263.3 v-4.1 M675.08,15.5 v4.1 M390.0,15.50 h4.1 M701.0,15.50 h-4.1 M390.0,73.23 h2.4 M701.0,73.23 h-2.4 M390.0,58.69 h2.4 M701.0,58.69 h-2.4 M390.0,48.37 h2.4 M701.0,48.37 h-2.4 M390.0,40.37 h2.4 M701.0,40.37 h-2.4 M390.0,33.82 h2.4 M701.0,33.82 h-2.4 M390.0,28.29 h2.4 M701.0,28.29 h-2.4 M390.0,23.50 h2.4 M701.0,23.50 h-2.4 M390.0,19.28 h2.4 M701.0,19.28 h-2.4 M390.0,98.10 h4.1 M701.0,98.10 h-4.1 M390.0,155.83 h2.4 M701.0,155.83 h-2.4 M390.0,141.29 h2.4 M701.0,141.29 h-2.4 M390.0,130.97 h2.4 M701.0,130.97 h-2.4 M390.0,122.97 h2.4 M701.0,122.97 h-2.4 M390.0,116.42 h2.4 M701.0,116.42 h-2.4 M390.0,110.89 h2.4 M701.0,110.89 h-2.4 M390.0,106.10 h2.4 M701.0,106.10 h-2.4 M390.0,101.88 h2.4 M701.0,101.88 h-2.4 M390.0,180.70 h4.1 M701.0,180.70 h-4.1 M390.0,238.43 h2.4 M701.0,238.43 h-2.4 M390.0,223.89 h2.4 M701.0,223.89 h-2.4 M390.0,213.57 h2.4 M701.0,213.57 h-2.4 M390.0,205.57 h2.4 M701.0,205.57 h-2.4 M390.0,199.02 h2.4 M701.0,199.02 h-2.4 M390.0,193.49 h2.4 M701.0,193.49 h-2.4 M390.0,188.70 h2.4 M701.0,188.70 h-2.4 M390.0,184.48 h2.4 M701.0,184.48 h-2.4 M390.0,263.30 h4.1 M701.0,263.30 h-4.1" stroke="#000" stroke-width="1.3" fill="none"/>
<path d="M57.7,81 H98.7" stroke="#ff0000" stroke-width="1.0"/>
<text x="107.5" y="86.4" class="t">t=5</text>
<path d="M57.7,96.5 H98.7" stroke="#00ff00" stroke-width="1.0"/>
<text x="107.5" y="101.9" class="t">t=25</text>
<path d="M57.7,111.6 H98.7" stroke="#0000ff" stroke-width="1.0"/>
<text x="107.5" y="117.0" class="t">t=100</text>
<path d="M57.7,127.1 H98.7" stroke="#ff00ff" stroke-width="1.0"/>
<text x="107.5" y="132.5" class="t">t=250</text>
<path d="M57.7,142.6 H98.7" stroke="#a52a2a" stroke-width="1.0"/>
<text x="107.5" y="148.0" class="t">t=500</text>
<path d="M408,190.5 H448.8" stroke="#ff0000" stroke-width="1.0"/>
<text x="458.2" y="195.9" class="t">t=5</text>
<path d="M408,205.9 H448.8" stroke="#00ff00" stroke-width="1.0"/>
<text x="458.2" y="211.3" class="t">t=25</text>
<path d="M408,221.2 H448.8" stroke="#0000ff" stroke-width="1.0"/>
<text x="458.2" y="226.6" class="t">t=100</text>
<path d="M408,236.5 H448.8" stroke="#ff00ff" stroke-width="1.0"/>
<text x="458.2" y="241.9" class="t">t=250</text>
<path d="M408,252.0 H448.8" stroke="#a52a2a" stroke-width="1.0"/>
<text x="458.2" y="257.4" class="t">t=500</text>
<text x="21.6" y="23.0" class="t" text-anchor="end" style="font-size:16.2px;letter-spacing:0.7px">10</text>
<text transform="translate(19.3,14.8) scale(1.05,1)" class="t" style="font-size:12.9px">0</text>
<text x="17.9" y="104.8" class="t" text-anchor="end" style="font-size:16.2px;letter-spacing:0.7px">10</text>
<text transform="translate(15.5,96.3) scale(1.05,1)" class="t" style="font-size:13.4px">-</text>
<text transform="translate(20.2,97.6) scale(0.88,1)" class="t" style="font-size:12.7px">1</text>
<text x="17.9" y="187.6" class="t" text-anchor="end" style="font-size:16.2px;letter-spacing:0.7px">10</text>
<text transform="translate(15.5,179.1) scale(1.05,1)" class="t" style="font-size:13.4px">-</text>
<text transform="translate(20.2,180.4) scale(0.88,1)" class="t" style="font-size:12.7px">2</text>
<text x="17.9" y="269.9" class="t" text-anchor="end" style="font-size:16.2px;letter-spacing:0.7px">10</text>
<text transform="translate(15.5,261.4) scale(1.05,1)" class="t" style="font-size:13.4px">-</text>
<text transform="translate(20.2,262.7) scale(0.88,1)" class="t" style="font-size:12.7px">3</text>
<text x="376.1" y="23.0" class="t" text-anchor="end" style="font-size:16.2px;letter-spacing:0.7px">10</text>
<text transform="translate(373.8,14.8) scale(1.05,1)" class="t" style="font-size:12.9px">0</text>
<text x="372.4" y="104.8" class="t" text-anchor="end" style="font-size:16.2px;letter-spacing:0.7px">10</text>
<text transform="translate(370.0,96.3) scale(1.05,1)" class="t" style="font-size:13.4px">-</text>
<text transform="translate(374.7,97.6) scale(0.88,1)" class="t" style="font-size:12.7px">1</text>
<text x="372.4" y="187.6" class="t" text-anchor="end" style="font-size:16.2px;letter-spacing:0.7px">10</text>
<text transform="translate(370.0,179.1) scale(1.05,1)" class="t" style="font-size:13.4px">-</text>
<text transform="translate(374.7,180.4) scale(0.88,1)" class="t" style="font-size:12.7px">2</text>
<text x="372.4" y="269.9" class="t" text-anchor="end" style="font-size:16.2px;letter-spacing:0.7px">10</text>
<text transform="translate(370.0,261.4) scale(1.05,1)" class="t" style="font-size:13.4px">-</text>
<text transform="translate(374.7,262.7) scale(0.88,1)" class="t" style="font-size:12.7px">3</text>
<text x="35.4" y="284.0" class="t" style="font-size:15.3px" text-anchor="middle">-50</text>
<text x="113.4" y="284.0" class="t" style="font-size:15.3px" text-anchor="middle">-25</text>
<text x="191.4" y="284.0" class="t" style="font-size:15.3px" text-anchor="middle">0</text>
<text x="269.4" y="284.0" class="t" style="font-size:15.3px" text-anchor="middle">25</text>
<text x="347.4" y="284.0" class="t" style="font-size:15.3px" text-anchor="middle">50</text>
<text x="390.4" y="284.0" class="t" style="font-size:15.3px" text-anchor="middle">0</text>
<text x="442.2" y="284.0" class="t" style="font-size:15.3px" text-anchor="middle">2</text>
<text x="494.1" y="284.0" class="t" style="font-size:15.3px" text-anchor="middle">4</text>
<text x="545.9" y="284.0" class="t" style="font-size:15.3px" text-anchor="middle">6</text>
<text x="597.7" y="284.0" class="t" style="font-size:15.3px" text-anchor="middle">8</text>
<text x="649.6" y="284.0" class="t" style="font-size:15.3px" text-anchor="middle">10</text>
<text x="701.4" y="284.0" class="t" style="font-size:15.3px" text-anchor="middle">12</text>
<text x="192.5" y="46.6" class="t" style="font-size:15.4px" text-anchor="middle">(a) P(Δx,t)</text>
<text x="541.9" y="46.9" class="t" style="font-size:15.3px" text-anchor="middle">(b) normalized P(Δr<tspan dy="-7.4" style="font-size:12.6px">2</tspan><tspan dy="7.4">,t)</tspan></text>
<text x="191" y="306.9" class="t" text-anchor="middle">Δx</text>
<text x="545.2" y="308.6" class="t" text-anchor="middle">Δr<tspan dy="-7.4" style="font-size:12.6px">2</tspan><tspan dy="7.4">/t</tspan></text>
</svg>
</body></html>
